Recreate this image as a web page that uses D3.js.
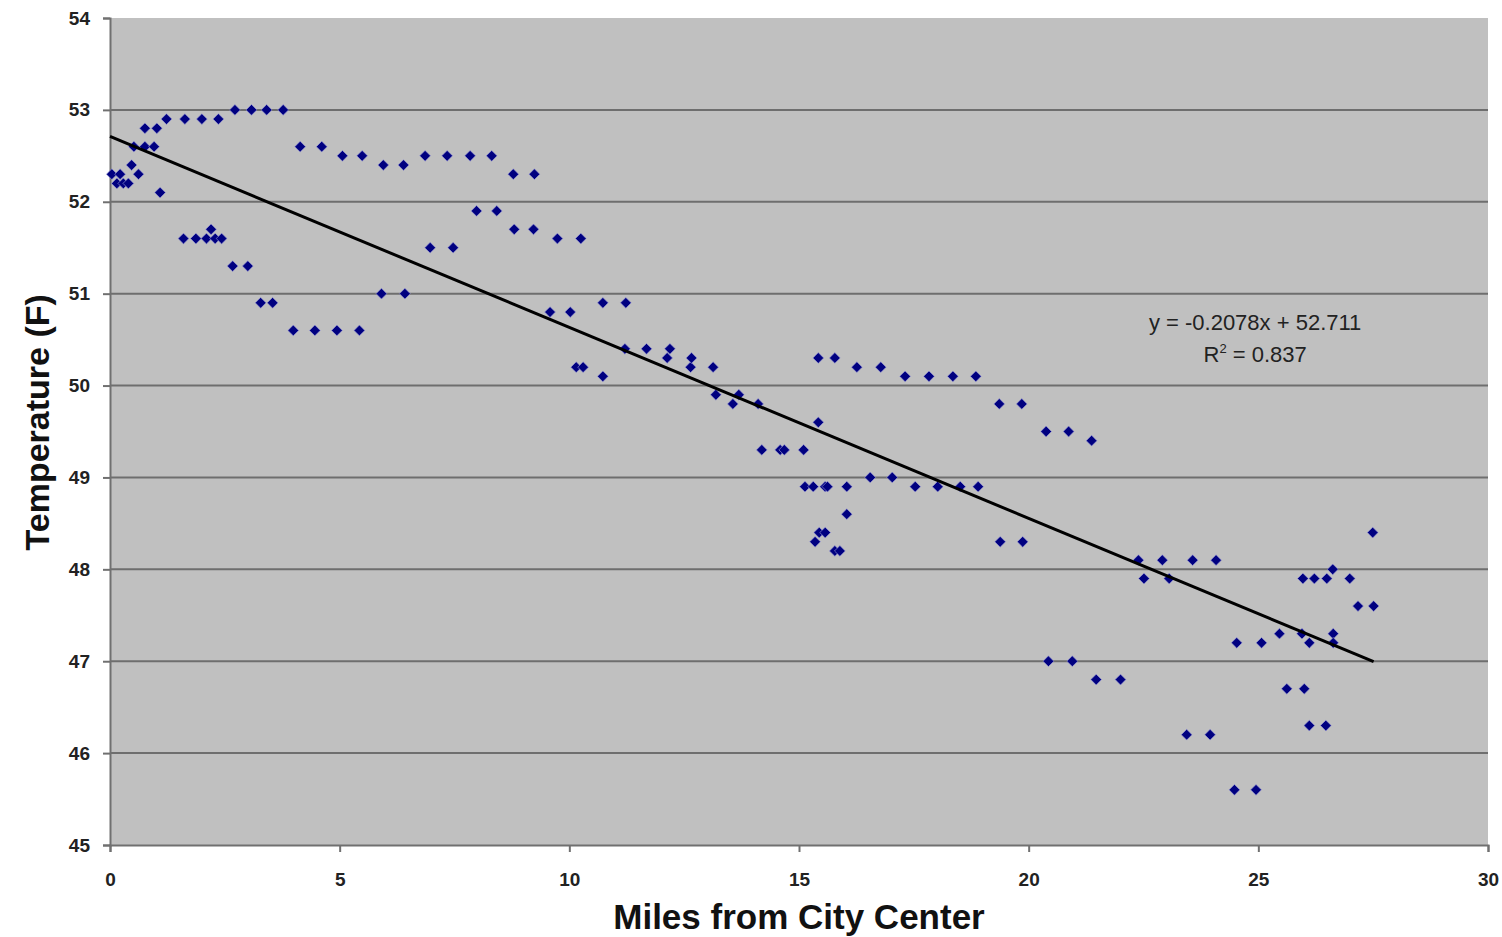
<!DOCTYPE html>
<html>
<head>
<meta charset="utf-8">
<script src="https://cdn.jsdelivr.net/npm/d3@7"></script>
<style>
  body { margin: 0; background: #fff; }
  svg { display: block; font-family: Arial, "Liberation Sans", sans-serif; }
</style>
</head>
<body>
<div id="chart"></div>
<script>
// distance from center (miles) and temperature (F)
var miles = [0.04, 0.15, 0.22, 0.29, 0.40, 0.47, 0.52, 0.62, 0.76, 0.76, 0.96, 1.02, 1.09, 1.23,
  1.60, 1.63, 1.87, 2.00, 2.10, 2.20, 2.29, 2.36, 2.43, 2.67, 2.72, 3.00, 3.08, 3.28, 3.41, 3.54,
  3.77, 3.99, 4.14, 4.46, 4.61, 4.94, 5.06, 5.43, 5.49, 5.91, 5.95, 6.39, 6.42, 6.86, 6.97, 7.34,
  7.47, 7.84, 7.98, 8.31, 8.42, 8.78, 8.80, 9.22, 9.24, 9.58, 9.74, 10.02, 10.15, 10.25, 10.30,
  10.73, 10.73, 11.21, 11.23, 11.68, 12.13, 12.19, 12.64, 12.66, 13.13, 13.19, 13.56, 13.69, 14.11,
  14.19, 14.59, 14.68, 15.10, 15.13, 15.31, 15.35, 15.42, 15.42, 15.44, 15.57, 15.57, 15.62, 15.78,
  15.78, 15.89, 16.04, 16.04, 16.26, 16.55, 16.78, 17.03, 17.31, 17.53, 17.83, 18.02, 18.35, 18.51,
  18.85, 18.90, 19.36, 19.38, 19.85, 19.87, 20.38, 20.43, 20.87, 20.95, 21.37, 21.47, 22.00, 22.39,
  22.51, 22.91, 23.06, 23.44, 23.57, 23.95, 24.08, 24.48, 24.53, 24.95, 25.07, 25.46, 25.62, 25.95,
  25.97, 26.00, 26.11, 26.11, 26.22, 26.47, 26.49, 26.62, 26.63, 26.63, 26.99, 27.17, 27.49, 27.51];

var temps = [52.3, 52.2, 52.3, 52.2, 52.2, 52.4, 52.6, 52.3, 52.8, 52.6, 52.6, 52.8, 52.1, 52.9,
  51.6, 52.9, 51.6, 52.9, 51.6, 51.7, 51.6, 52.9, 51.6, 51.3, 53.0, 51.3, 53.0, 50.9, 53.0, 50.9,
  53.0, 50.6, 52.6, 50.6, 52.6, 50.6, 52.5, 50.6, 52.5, 51.0, 52.4, 52.4, 51.0, 52.5, 51.5, 52.5,
  51.5, 52.5, 51.9, 52.5, 51.9, 52.3, 51.7, 51.7, 52.3, 50.8, 51.6, 50.8, 50.2, 51.6, 50.2,
  50.1, 50.9, 50.4, 50.9, 50.4, 50.3, 50.4, 50.2, 50.3, 50.2, 49.9, 49.8, 49.9, 49.8,
  49.3, 49.3, 49.3, 49.3, 48.9, 48.9, 48.3, 50.3, 49.6, 48.4, 48.4, 48.9, 48.9, 50.3,
  48.2, 48.2, 48.9, 48.6, 50.2, 49.0, 50.2, 49.0, 50.1, 48.9, 50.1, 48.9, 50.1, 48.9,
  50.1, 48.9, 49.8, 48.3, 49.8, 48.3, 49.5, 47.0, 49.5, 47.0, 49.4, 46.8, 46.8, 48.1,
  47.9, 48.1, 47.9, 46.2, 48.1, 46.2, 48.1, 45.6, 47.2, 45.6, 47.2, 47.3, 46.7, 47.3,
  47.9, 46.7, 47.2, 46.3, 47.9, 46.3, 47.9, 48.0, 47.3, 47.2, 47.9, 47.6, 48.4, 47.6];

// linear trendline
var slope = -0.2078, intercept = 52.711;
var equationLines = ["y = -0.2078x + 52.711", "R", "2", " = 0.837"];

var xTicks = [0, 5, 10, 15, 20, 25, 30];
var yTicks = [45, 46, 47, 48, 49, 50, 51, 52, 53, 54];

var margin = {top: 18, right: 14, bottom: 92, left: 110}
  , width = 1502 - margin.left - margin.right
  , height = 937 - margin.top - margin.bottom;

var x = d3.scaleLinear().domain([0, 30]).range([0, width]);
var y = d3.scaleLinear().domain([45, 54]).range([height, 0]);

var svg = d3.select("#chart").append("svg")
    .attr("width", 1502)
    .attr("height", 937)
  .append("g")
    .attr("transform", "translate(" + margin.left + "," + margin.top + ")");

// plot area
svg.append("rect")
    .attr("width", width)
    .attr("height", height)
    .attr("fill", "#c0c0c0");

// horizontal gridlines
svg.selectAll(".grid")
    .data(yTicks.filter(function(d) { return d > 45 && d < 54; }))
  .enter().append("line")
    .attr("class", "grid")
    .attr("x1", 0)
    .attr("x2", width)
    .attr("y1", function(d) { return y(d); })
    .attr("y2", function(d) { return y(d); })
    .attr("stroke", "#6e6e6e")
    .attr("stroke-width", 2);

// axes
var xAxis = svg.append("g")
    .attr("transform", "translate(0," + height + ")")
    .call(d3.axisBottom(x).tickValues(xTicks).tickSize(7).tickPadding(21).tickFormat(d3.format("d")));

var yAxis = svg.append("g")
    .call(d3.axisLeft(y).tickValues(yTicks).tickSize(7).tickPadding(13).tickFormat(d3.format("d")));

[xAxis, yAxis].forEach(function(a) {
  a.select(".domain").attr("stroke", "#707070").attr("stroke-width", 2);
  a.selectAll(".tick line").attr("stroke", "#707070").attr("stroke-width", 2);
  a.selectAll(".tick text")
      .attr("fill", "#222")
      .style("font-size", "19px")
      .style("font-weight", "bold");
});

// points
svg.selectAll(".dot")
    .data(miles)
  .enter().append("path")
    .attr("class", "dot")
    .attr("d", d3.symbol().type(d3.symbolSquare).size(58))
    .attr("transform", function(d, i) {
      return "translate(" + x(d) + "," + y(temps[i]) + ") rotate(45)";
    })
    .attr("fill", "#000080")
    .attr("stroke", "#9a9ad8")
    .attr("stroke-width", 0.6);

// trendline
var xEnd = d3.max(miles);
svg.append("line")
    .attr("x1", x(0))
    .attr("y1", y(intercept))
    .attr("x2", x(xEnd))
    .attr("y2", y(intercept + slope * xEnd))
    .attr("stroke", "#000")
    .attr("stroke-width", 3);

// equation label
var eq = svg.append("g")
    .attr("fill", "#222")
    .style("font-size", "22px");

eq.append("text")
    .attr("x", x(24.93))
    .attr("y", y(50.6))
    .attr("text-anchor", "middle")
    .text(equationLines[0]);

var r2 = eq.append("text")
    .attr("x", x(24.93))
    .attr("y", y(50.26))
    .attr("text-anchor", "middle");
r2.append("tspan").text(equationLines[1]);
r2.append("tspan").attr("dy", -9).style("font-size", "13px").text(equationLines[2]);
r2.append("tspan").attr("dy", 9).text(equationLines[3]);

// axis titles
svg.append("text")
    .attr("x", width / 2)
    .attr("y", height + 84)
    .attr("text-anchor", "middle")
    .attr("fill", "#111")
    .style("font-size", "35px")
    .style("font-weight", "bold")
    .text("Miles from City Center");

svg.append("text")
    .attr("transform", "translate(" + (-61) + "," + (y(49.6)) + ") rotate(-90)")
    .attr("text-anchor", "middle")
    .attr("fill", "#111")
    .style("font-size", "34px")
    .style("font-weight", "bold")
    .text("Temperature (F)");
</script>
</body>
</html>
